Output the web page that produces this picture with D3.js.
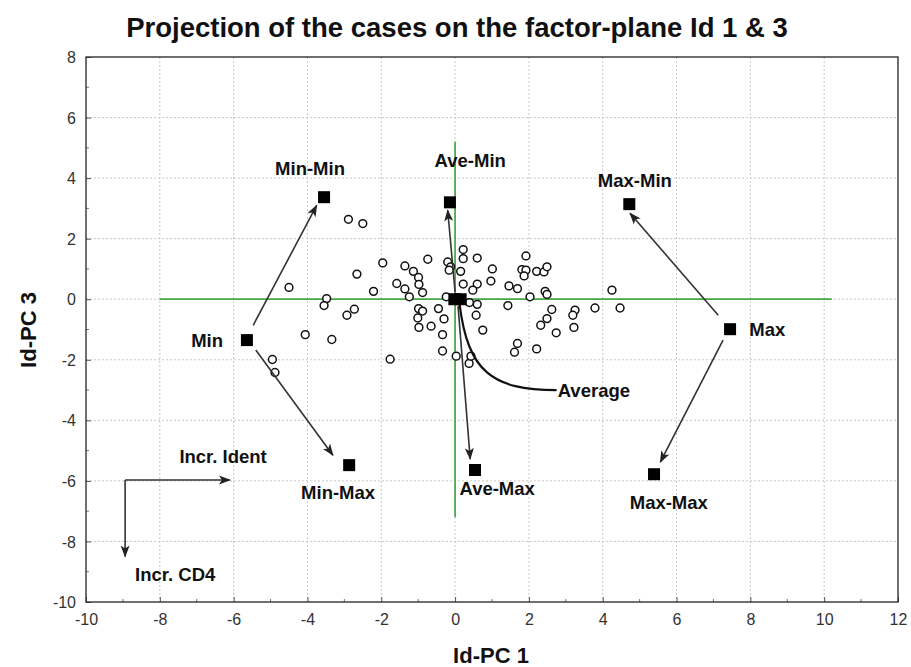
<!DOCTYPE html>
<html><head><meta charset="utf-8">
<script src="https://cdn.jsdelivr.net/npm/d3@7/dist/d3.min.js"></script>
<style>
body{margin:0;background:#fff;}
text{font-family:"Liberation Sans",Arial,sans-serif;}
</style></head>
<body><svg id="c" width="911" height="667"></svg>
<script>
// ---- data ----
const casesX = [-2.89,-2.50,-4.50,-2.66,-1.96,-2.21,-3.48,-3.55,-2.73,-2.93,-4.06,-3.34,-4.95,-4.88,-1.76,
 -1.36,-1.13,-0.99,-1.58,-1.36,-0.98,-0.88,-1.24,-0.74,-0.99,-0.88,-1.01,-0.98,-0.65,-0.45,-0.30,-0.34,-0.34,
 -0.24,-0.20,-0.12,-0.16,0.15,0.22,0.22,0.22,0.03,0.38,0.60,1.01,0.97,0.60,0.48,0.39,0.60,0.57,0.75,0.43,
 1.92,1.81,1.92,1.87,2.21,2.41,2.49,1.46,1.69,2.03,2.44,2.49,1.43,2.62,2.49,2.32,2.74,1.69,1.61,2.21,
 3.25,3.19,3.22,3.79,4.25,4.47];
const casesY = [2.64,2.50,0.39,0.83,1.20,0.26,0.02,-0.21,-0.33,-0.53,-1.17,-1.33,-1.99,-2.42,-1.98,
 1.10,0.92,0.72,0.52,0.34,0.49,0.22,0.08,1.32,-0.31,-0.39,-0.62,-0.93,-0.89,-0.31,-0.65,-1.17,-1.71,
 0.08,1.23,1.07,0.96,0.92,1.64,1.34,0.50,-1.88,-2.12,1.36,1.00,0.60,0.50,0.30,-0.11,-0.17,-0.53,-1.02,-1.88,
 1.43,0.98,0.96,0.77,0.92,0.90,1.07,0.44,0.35,0.08,0.26,0.16,-0.21,-0.34,-0.64,-0.86,-1.11,-1.46,-1.75,-1.64,
 -0.36,-0.53,-0.93,-0.29,0.30,-0.29];

const groupNames = ["Min","Min-Min","Min-Max","Ave-Min","Ave-Max","Max-Min","Max","Max-Max","Average","Average"];
const groupX = [-5.64,-3.55,-2.87,-0.14,0.54,4.72,7.45,5.39,-0.02,0.15];
const groupY = [-1.35,3.37,-5.48,3.20,-5.64,3.14,-0.99,-5.78,0.0,0.0];

// arrows [x1,y1,x2,y2]
const arrows = [
 [-5.47,-0.86,-3.75,3.10],
 [-5.40,-1.68,-3.31,-5.15],
 [0.00,0.23,-0.20,2.94],
 [0.08,-0.23,0.41,-5.28],
 [7.13,-0.53,4.74,2.84],
 [7.26,-1.35,5.56,-5.38],
 [-8.94,-5.97,-6.10,-5.97],
 [-8.94,-5.97,-8.94,-8.50]
];

const labelText = ["Min-Min","Ave-Min","Max-Min","Min","Max","Min-Max","Ave-Max","Max-Max","Average","Incr. Ident","Incr. CD4"];
const labelX = [-3.93,0.41,4.87,-6.72,7.97,-3.17,1.14,5.79,2.78,-7.47,-8.67];
const labelY = [4.32,4.59,3.93,-1.35,-1.0,-6.37,-6.24,-6.7,-3.0,-5.18,-9.08];
const labelAnchor = ["middle","middle","middle","middle","start","middle","middle","middle","start","start","start"];

const xTicks = [-10,-8,-6,-4,-2,0,2,4,6,8,10,12];
const yTicks = [-10,-8,-6,-4,-2,0,2,4,6,8];
const minorX = d3.range(-9,12,2);
const minorY = d3.range(-9,8,2);

// ---- layout ----
const svg = d3.select("#c");
const L=86,R=898,T=57,B=602;
const x = d3.scaleLinear().domain([-10,12]).range([L,R]);
const y = d3.scaleLinear().domain([-10,8]).range([B,T]);

// grid
const g = svg.append("g");
g.selectAll(".gx").data(xTicks.slice(1,-1)).enter().append("line")
 .attr("x1",d=>x(d)).attr("x2",d=>x(d)).attr("y1",T).attr("y2",B)
 .attr("stroke","#c8c8c8").attr("stroke-dasharray","2,2").attr("stroke-width",1);
g.selectAll(".gy").data(yTicks.slice(1,-1)).enter().append("line")
 .attr("y1",d=>y(d)).attr("y2",d=>y(d)).attr("x1",L).attr("x2",R)
 .attr("stroke","#c8c8c8").attr("stroke-dasharray","2,2").attr("stroke-width",1);

// axes
const fmt = d => String(d);
const xAxis = d3.axisBottom(x).tickValues(xTicks).tickSize(-5).tickPadding(12).tickFormat(fmt);
const yAxis = d3.axisLeft(y).tickValues(yTicks).tickSize(-5).tickPadding(10).tickFormat(fmt);
const gx = svg.append("g").attr("transform",`translate(0,${B})`).call(xAxis);
const gy = svg.append("g").attr("transform",`translate(${L},0)`).call(yAxis);
[gx,gy].forEach(a=>{
  a.select(".domain").remove();
  a.selectAll("line").attr("stroke","#555");
  a.selectAll("text").attr("font-size",16).attr("fill","#333").attr("font-family","Liberation Sans, Arial, sans-serif");
});
gy.selectAll("text").attr("dy","0.35em");
svg.append("g").selectAll("line").data(minorX).enter().append("line")
 .attr("x1",d=>x(d)).attr("x2",d=>x(d)).attr("y1",B).attr("y2",B-3).attr("stroke","#777");
svg.append("g").selectAll("line").data(minorY).enter().append("line")
 .attr("y1",d=>y(d)).attr("y2",d=>y(d)).attr("x1",L).attr("x2",L+3).attr("stroke","#777");
svg.append("rect").attr("x",L).attr("y",T).attr("width",R-L).attr("height",B-T)
 .attr("fill","none").attr("stroke","#222").attr("stroke-width",1.3);

// green axes lines
svg.append("line").attr("x1",x(-8)).attr("x2",x(10.2)).attr("y1",y(0)).attr("y2",y(0))
 .attr("stroke","#45a845").attr("stroke-width",1.7);
svg.append("line").attr("x1",x(0)).attr("x2",x(0)).attr("y1",y(5.2)).attr("y2",y(-7.2))
 .attr("stroke","#45a845").attr("stroke-width",1.7);

// arrow marker
svg.append("defs").append("marker").attr("id","ah").attr("viewBox","0 -5 12 10")
 .attr("refX",11).attr("refY",0).attr("markerWidth",13).attr("markerHeight",10)
 .attr("markerUnits","userSpaceOnUse").attr("orient","auto")
 .append("path").attr("d","M0,-4.5L12,0L0,4.5L3,0Z").attr("fill","#222");

// cases
svg.append("g").selectAll("circle").data(casesX.map((d,i)=>[d,casesY[i]])).enter().append("circle")
 .attr("cx",d=>x(d[0])).attr("cy",d=>y(d[1])).attr("r",3.9)
 .attr("fill","#fff").attr("stroke","#111").attr("stroke-width",1.5);

// arrows
svg.append("g").selectAll("line").data(arrows).enter().append("line")
 .attr("x1",d=>x(d[0])).attr("y1",d=>y(d[1])).attr("x2",d=>x(d[2])).attr("y2",d=>y(d[3]))
 .attr("stroke","#333").attr("stroke-width",1.6).attr("marker-end","url(#ah)");

// average curve
const curve = d3.path();
curve.moveTo(x(0.12),y(-0.15));
curve.bezierCurveTo(x(0.35),y(-2.4),x(1.0),y(-3.0),x(2.75),y(-3.0));
svg.append("path").attr("d",curve.toString()).attr("fill","none").attr("stroke","#111").attr("stroke-width",2.2);

// group squares
svg.append("g").selectAll("rect").data(groupX.map((d,i)=>[d,groupY[i]])).enter().append("rect")
 .attr("x",d=>x(d[0])-6).attr("y",d=>y(d[1])-6).attr("width",12).attr("height",12).attr("fill","#000");

// labels
svg.append("g").selectAll("text").data(labelText).enter().append("text")
 .attr("x",(d,i)=>x(labelX[i])).attr("y",(d,i)=>y(labelY[i]))
 .attr("text-anchor",(d,i)=>labelAnchor[i]).attr("dy","0.35em")
 .attr("font-size",18.5).attr("font-weight","bold").attr("fill","#111").text(d=>d);

// titles
svg.append("text").attr("x",457).attr("y",37).attr("text-anchor","middle")
 .attr("font-size",27.5).attr("font-weight","bold").attr("fill","#111")
 .text("Projection of the cases on the factor-plane Id 1 & 3");
svg.append("text").attr("x",491).attr("y",663).attr("text-anchor","middle")
 .attr("font-size",22).attr("font-weight","bold").attr("fill","#111").text("Id-PC 1");
svg.append("text").attr("transform","translate(36,330) rotate(-90)").attr("text-anchor","middle")
 .attr("font-size",22).attr("font-weight","bold").attr("fill","#111").text("Id-PC 3");
</script></body></html>
